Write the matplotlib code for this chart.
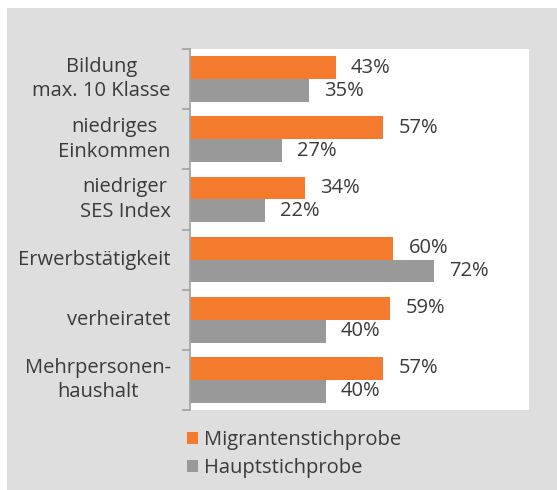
import matplotlib.pyplot as plt
import matplotlib.patches as mpatches
import numpy as np

categories = ["Bildung\nmax. 10 Klasse", "niedriges\nEinkommen", "niedriger\nSES Index",
              "Erwerbstätigkeit", "verheiratet", "Mehrpersonen-\nhaushalt"]
migranten = [43, 57, 34, 60, 59, 57]
haupt = [35, 27, 22, 72, 40, 40]
series_names = ["Migrantenstichprobe", "Hauptstichprobe"]

orange = "#F47A2D"
grey = "#999999"
bg = "#DEDEDE"
txt = "#3A3A3A"
fs = 14.5

plt.rcParams['font.family'] = ['Open Sans', 'DejaVu Sans']

fig = plt.figure(figsize=(5.57, 4.9), dpi=100)
fig.patch.set_facecolor("white")
# grey frame behind the plot
fig.patches.append(mpatches.Rectangle((7 / 557, 0), 1, 1 - 8 / 490, transform=fig.transFigure,
                                      facecolor=bg, edgecolor="none", zorder=-10))

ax = fig.add_axes([190 / 557, 1 - 410 / 490, (529 - 190) / 557, (410 - 49) / 490])
ax.set_facecolor("white")

y = np.arange(len(categories))
h = 0.38
b1 = ax.barh(y - h / 2, migranten, height=h, color=orange, label=series_names[0])
b2 = ax.barh(y + h / 2, haupt, height=h, color=grey, label=series_names[1])

for bars, vals in ((b1, migranten), (b2, haupt)):
    for bar, v in zip(bars, vals):
        ax.text(v + 4.5, bar.get_y() + bar.get_height() / 2, f"{v}%",
                va="center", ha="left", fontsize=fs, color=txt)

ax.set_xlim(0, 100)
ax.set_ylim(len(categories) - 0.5, -0.5)
ax.set_xticks([])
ax.set_yticks(y)
ax.set_yticklabels(categories, fontsize=fs, color=txt, multialignment="center",
                   linespacing=1.3, va="center")
ax.set_yticks(np.arange(len(categories) + 1) - 0.5, minor=True)
ax.tick_params(axis="y", which="major", length=0, pad=14)
ax.tick_params(axis="y", which="minor", length=6, color="#A0A0A0", width=1.2)
for s in ["top", "right", "bottom"]:
    ax.spines[s].set_visible(False)
ax.spines["left"].set_color("#A0A0A0")
ax.spines["left"].set_linewidth(1.2)

fig.legend(handles=[b1, b2], labels=series_names, loc="upper left",
           bbox_to_anchor=(169 / 557, 1 - 412 / 490), frameon=False,
           fontsize=fs, labelcolor=txt, handlelength=0.55, handleheight=0.55,
           handletextpad=0.3, labelspacing=0.4)

fig.savefig("out.png", dpi=100, facecolor=fig.get_facecolor())
